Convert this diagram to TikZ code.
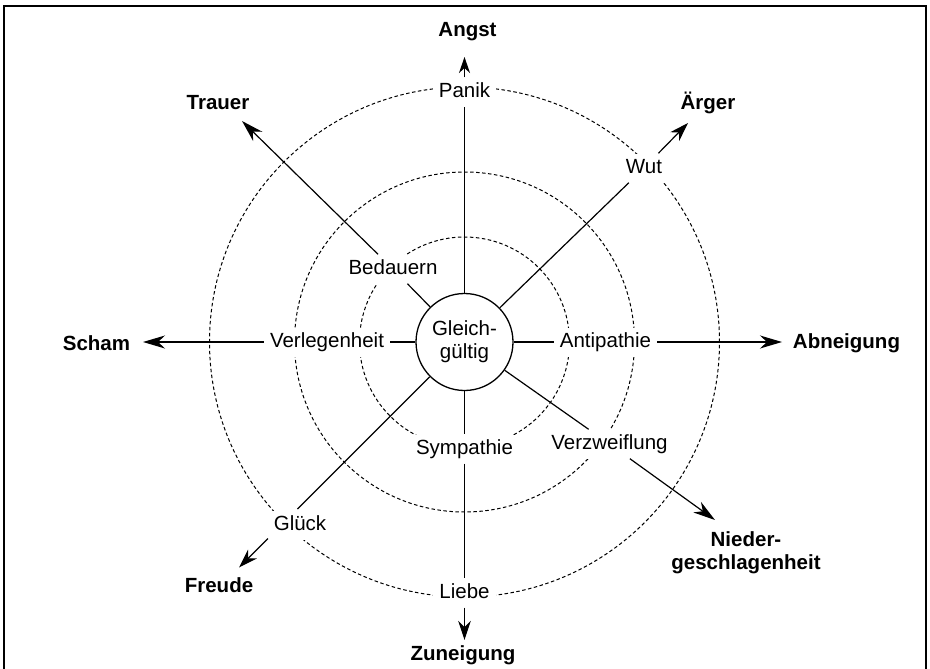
\documentclass[tikz,border=0pt]{standalone}
\usepackage{fontspec}
\setmainfont{Liberation Sans}
\usetikzlibrary{arrows.meta}
\begin{document}
\begin{tikzpicture}[x=1pt,y=-1pt,
  every node/.style={font=\fontsize{20.5pt}{23pt}\selectfont},
  lab/.style={fill=white,inner xsep=6pt,inner ysep=5pt,text height=15pt,text depth=4pt},
  endlab/.style={font=\fontsize{20.5pt}{23pt}\selectfont\bfseries,align=center,inner sep=0pt},
  ring/.style={line width=1pt,dash pattern=on 3.5pt off 2.5pt},
  conn/.style={line width=1.2pt},
  arr/.style={line width=1.2pt,-{Stealth[length=22pt,width=13pt,inset=7pt]}},
  arrs/.style={line width=1.2pt,-{Stealth[length=19pt,width=12.5pt,inset=6pt]}},
  arrt/.style={line width=1.2pt,-{Stealth[length=16pt,width=11pt,inset=5pt]}}]
\useasboundingbox (0,0) rectangle (930,669);
\fill[white] (0,0) rectangle (930,669);
% frame
\draw[line width=2pt] (4,675) -- (4,6) -- (926,6) -- (926,675);
% dashed rings
\draw[ring] (464.5,342) circle[radius=105pt];
\draw[ring] (464.5,342) circle[radius=170pt];
\draw[ring] (464.5,342) circle[radius=255pt];
% centre
\node[draw,circle,line width=1.3pt,minimum size=97pt,inner sep=0pt,align=center,fill=white] (C) at (464.5,342) {Gleich-\\gültig};
% ring labels
\node[lab] (panik) at (464.5,92) {Panik};
\node[lab] (liebe) at (464.5,593) {Liebe};
\node[lab] (wut) at (644,168) {Wut};
\node[lab] (bedauern) at (393,269) {Bedauern};
\node[lab] (sympathie) at (464.5,449) {Sympathie};
\node[lab] (verzw) at (609.5,444) {Verzweiflung};
\node[lab] (glueck) at (300,525) {Glück};
\node[lab] (verleg) at (327,342) {Verlegenheit};
\node[lab] (antip) at (605.5,342) {Antipathie};
% end labels
\node[endlab] (angst) at (467.5,32) {Angst};
\node[endlab] (trauer) at (218,103) {Trauer};
\node[endlab] (aerger) at (708,103) {Ärger};
\node[endlab] (scham) at (96.5,343) {Scham};
\node[endlab] (abneig) at (846.5,343) {Abneigung};
\node[endlab] (freude) at (219,585) {Freude};
\node[endlab] (nieder) at (746,553) {Nieder-\\geschlagenheit};
\node[endlab] (zuneig) at (463,655) {Zuneigung};
% arrow tips and free ends
\coordinate (tAngst) at (464.5,57);
\coordinate (tZun) at (464.5,640);
\coordinate (tScham) at (143,342);
\coordinate (tAbn) at (782,342);
\coordinate (tTrauer) at (242,121);
\coordinate (tAerger) at (688,123);
\coordinate (tNieder) at (715,520);
\coordinate (g1) at (297.5,509);
\coordinate (g2) at (268,538.5);
\coordinate (tFreude) at (239,567.5);
% connectors
\draw[conn] (C) -- (panik);
\draw[conn] (C) -- (sympathie);
\draw[conn] (sympathie) -- (liebe);
\draw[conn] (C) -- (wut);
\draw[conn] (C) -- (bedauern);
\draw[conn] (C) -- (verzw);
\draw[conn] (C) -- (verleg);
\draw[conn] (C) -- (antip);
\draw[conn] (C) -- (g1);
\draw[arrt] (panik) -- (tAngst);
\draw[arrs] (liebe) -- (tZun);
\draw[arr] (verleg) -- (tScham);
\draw[arr] (antip) -- (tAbn);
\draw[arr] (bedauern) -- (tTrauer);
\draw[arrs] (wut) -- (tAerger);
\draw[arr] (verzw) -- (tNieder);
\draw[arrs] (g2) -- (tFreude);
\end{tikzpicture}
\end{document}
